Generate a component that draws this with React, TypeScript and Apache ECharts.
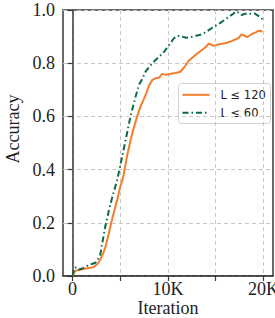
import React, { useEffect, useRef } from "react";
import * as echarts from "echarts";

const seriesNames = ["L ≤ 120", "L ≤ 60"];

const iterL120 = [0, 300, 1000, 1700, 2200, 2600, 2900, 3200, 3450, 3800, 4050, 4300, 4670, 5000, 5300, 5700, 6070, 6400, 6770, 7100, 7470, 7750, 8000, 8350, 8700, 9050, 9400, 9700, 10100, 10500, 10800, 11300, 11600, 11900, 12200, 12600, 12900, 13300, 13800, 14300, 14700, 15000, 15500, 16100, 16600, 17100, 17400, 17700, 18000, 18300, 18600, 18900, 19200, 19500, 19700, 19900];
const accL120 = [0, 0.02, 0.025, 0.03, 0.033, 0.045, 0.06, 0.085, 0.11, 0.16, 0.2, 0.236, 0.286, 0.336, 0.37, 0.449, 0.51, 0.555, 0.6, 0.636, 0.665, 0.69, 0.715, 0.737, 0.743, 0.745, 0.76, 0.757, 0.758, 0.762, 0.763, 0.768, 0.78, 0.795, 0.81, 0.822, 0.832, 0.843, 0.856, 0.874, 0.866, 0.868, 0.872, 0.876, 0.882, 0.89, 0.895, 0.908, 0.904, 0.898, 0.905, 0.912, 0.916, 0.922, 0.921, 0.918];

const iterL60 = [0, 150, 300, 600, 1000, 1400, 1700, 2100, 2400, 2700, 2900, 3100, 3450, 3800, 4150, 4670, 5200, 5700, 6070, 6600, 6950, 7300, 7650, 8000, 8350, 8700, 9050, 9600, 10100, 10600, 11000, 11500, 11900, 12200, 12600, 12900, 13300, 13600, 14300, 14800, 15400, 15900, 16400, 16800, 17100, 17400, 17700, 18000, 18400, 18700, 19050, 19300, 19600, 19900];
const accL60 = [0, 0.025, 0.033, 0.023, 0.028, 0.035, 0.042, 0.046, 0.05, 0.065, 0.08, 0.12, 0.19, 0.245, 0.295, 0.36, 0.449, 0.536, 0.6, 0.674, 0.718, 0.74, 0.768, 0.785, 0.8, 0.812, 0.824, 0.843, 0.868, 0.893, 0.903, 0.9, 0.896, 0.897, 0.9, 0.903, 0.906, 0.909, 0.925, 0.937, 0.95, 0.962, 0.975, 0.985, 0.995, 0.99, 0.981, 0.985, 0.988, 0.985, 0.987, 0.982, 0.975, 0.965];

const xTicks = [0, 5000, 10000, 15000, 20000];
const xLabels = [0, 10000, 20000];

const serif = "Liberation Serif";
const axisColor = "#3a3a3a";
const orange = "#f57c2b";
const green = "#0b6b45";
const greenDash = [6, 3, 1.5, 3];
const gridLine = { show: true, lineStyle: { type: [4, 3], color: "#c8c8c8", width: 1 } };

export default function App() {
  const ref = useRef<HTMLDivElement>(null);
  useEffect(() => {
    const chart = echarts.init(ref.current!, null, { renderer: "svg" });
    const legendFont = { fontFamily: "DejaVu Sans", fontSize: 11.5, fill: "#222", verticalAlign: "middle" };
    chart.setOption({
      animation: false,
      grid: {
        left: 63, right: 2, top: 10, bottom: 42, outerBoundsMode: "none", containLabel: false,
        show: true, borderColor: axisColor, borderWidth: 1.5, backgroundColor: "transparent",
      },
      xAxis: {
        type: "value", min: -1000, max: 21000,
        axisLine: { show: true, lineStyle: { color: axisColor, width: 1.5 } },
        axisTick: { show: true, customValues: xTicks, length: 5, lineStyle: { color: axisColor, width: 1.2 } },
        axisLabel: {
          customValues: xLabels,
          formatter: (v: number) => (v === 0 ? "0" : v / 1000 + "K"),
          fontFamily: serif, fontSize: 18, lineHeight: 17, color: "#222", margin: 4,
        },
        splitLine: gridLine,
        name: "Iteration", nameLocation: "middle", nameGap: 23, nameMoveOverlap: false,
        nameTextStyle: { fontFamily: serif, fontSize: 18, lineHeight: 17, color: "#222" },
      },
      yAxis: {
        type: "value", min: 0, max: 1, interval: 0.2,
        axisLine: { show: true, lineStyle: { color: axisColor, width: 1.5 } },
        axisTick: { show: true, length: 5, lineStyle: { color: axisColor, width: 1.2 } },
        axisLabel: {
          formatter: (v: number) => v.toFixed(1),
          fontFamily: serif, fontSize: 18, color: "#222", margin: 8,
        },
        splitLine: gridLine,
        name: "Accuracy", nameLocation: "middle", nameGap: 38, nameRotate: 90,
        nameTextStyle: { fontFamily: serif, fontSize: 18, color: "#222", padding: [0, 0, 0, 28] },
      },
      graphic: [
        {
          type: "group", left: 178, top: 83, z: 100,
          children: [
            { type: "rect", shape: { x: 0, y: 0, width: 92, height: 40, r: 3 }, style: { fill: "rgba(255,255,255,0.85)", stroke: "#d0d0d0", lineWidth: 1 } },
            { type: "line", shape: { x1: 4, y1: 11.3, x2: 31, y2: 11.3 }, style: { stroke: orange, lineWidth: 2 } },
            { type: "line", shape: { x1: 4, y1: 29.3, x2: 31, y2: 29.3 }, style: { stroke: green, lineWidth: 2, lineDash: greenDash } },
            { type: "text", x: 42, y: 11.3, style: { text: seriesNames[0], ...legendFont } },
            { type: "text", x: 42, y: 29.3, style: { text: seriesNames[1], ...legendFont } },
          ],
        },
      ],
      series: [
        {
          type: "line", name: seriesNames[0],
          data: iterL120.map((x, i) => [x, accL120[i]]),
          symbol: "none", showSymbol: false,
          lineStyle: { color: orange, width: 2 }, itemStyle: { color: orange },
        },
        {
          type: "line", name: seriesNames[1],
          data: iterL60.map((x, i) => [x, accL60[i]]),
          symbol: "none", showSymbol: false,
          lineStyle: { color: green, width: 2, type: greenDash }, itemStyle: { color: green },
        },
      ],
    });
    return () => chart.dispose();
  }, []);
  return <div ref={ref} style={{ position: "absolute", left: 0, top: 0, width: 275, height: 318 }} />;
}
